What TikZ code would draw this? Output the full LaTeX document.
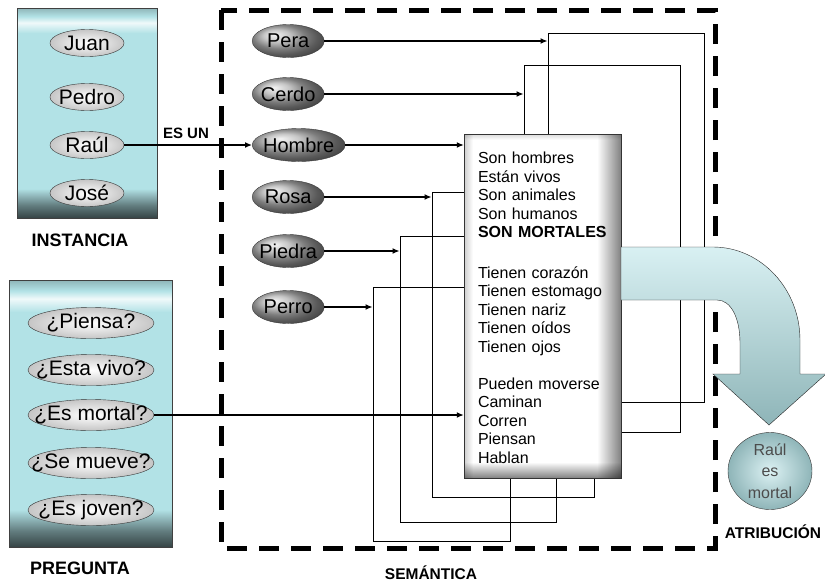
\documentclass[tikz,border=0pt]{standalone}
\usepackage{fontspec}
\setmainfont{Liberation Sans}
\usetikzlibrary{shapes.geometric,arrows.meta,fadings}

\definecolor{panelblue}{RGB}{178,226,230}
\pgfdeclareverticalshading{panelglow}{100bp}{color(0bp)=(panelblue!30!black); color(25bp)=(panelblue!30!black); color(28bp)=(panelblue!55!black); color(32bp)=(panelblue); color(69bp)=(panelblue); color(71.5bp)=(panelblue!20!white); color(73bp)=(panelblue); color(75bp)=(panelblue!80!black); color(100bp)=(panelblue!80!black)}

\tikzset{
  panel/.style={draw=gray!50!black, shade, shading=panelglow},
  instoval/.style={ellipse, draw=gray!40!black, inner color=white, outer color=gray!45,
    inner xsep=-40pt, inner ysep=-12pt, minimum width=74pt, minimum height=27pt,
    font=\fontsize{21}{24}\selectfont},
  pregoval/.style={instoval, minimum width=126pt, minimum height=31pt,
    font=\fontsize{21}{24}\selectfont},
  semoval/.style={ellipse, draw=gray!45!black, ball color=gray!60, anchor=west,
    inner xsep=-40pt, inner ysep=-12pt, minimum width=72pt, minimum height=33pt,
    font=\fontsize{20}{24}\selectfont},
  stackbox/.style={draw, line width=0.9pt},
  link/.style={line width=1.3pt, -{Latex[length=7pt,width=6pt]}},
  lbl/.style={font=\bfseries\fontsize{18}{20}\selectfont},
  edgeshadow/.style={fill=black, opacity=#1},
}

\begin{document}
\begin{tikzpicture}[x=1pt, y=-1pt]
  \useasboundingbox (0,0) rectangle (825,582);

  % Instancia
  \node[panel, minimum width=140pt, minimum height=210pt] (instpanel) at (87,113) {};
  \node[instoval] (juan)  at (87,43)  {Juan};
  \node[instoval] (pedro) at (87,97)  {Pedro};
  \node[instoval] (raul)  at (87,145) {Raúl};
  \node[instoval] (jose)  at (87,193) {José};
  \node[lbl] (instlabel) at (80,240) {INSTANCIA};

  % Pregunta
  \node[panel, minimum width=163pt, minimum height=267pt] (pregpanel) at (90.5,413.5) {};
  \node[pregoval] (piensa)   at (91,323) {¿Piensa?};
  \node[pregoval] (estavivo) at (91,370) {¿Esta vivo?};
  \node[pregoval] (esmortal) at (91,415) {¿Es mortal?};
  \node[pregoval] (semueve)  at (91,463) {¿Se mueve?};
  \node[pregoval] (esjoven)  at (91,510) {¿Es joven?};
  \node[lbl] (preglabel) at (80,568) {PREGUNTA};

  % Semantica
  \draw[line width=5pt, dash pattern=on 20pt off 12pt] (221,10) rectangle (715,548);
  \node[lbl, font=\bfseries\fontsize{15.5}{18}\selectfont] (semlabel) at (431,573) {SEMÁNTICA};

  \node[stackbox, minimum width=156pt, minimum height=369pt] (perabox)   at (626,217.5) {};
  \node[stackbox, minimum width=156pt, minimum height=367pt] (cerdobox)  at (602,248.5) {};
  \node[stackbox, minimum width=162pt, minimum height=305pt] (rosabox)   at (513,344.5) {};
  \node[stackbox, minimum width=156pt, minimum height=286pt] (piedrabox) at (478,379) {};
  \node[stackbox, minimum width=137pt, minimum height=254pt] (perrobox)  at (441.5,414) {};

  \node[semoval] (pera)   at (252,41)  {Pera};
  \node[semoval] (cerdo)  at (252,94)  {Cerdo};
  \node[semoval, minimum width=93pt] (hombre) at (252,145) {Hombre};
  \node[semoval] (rosa)   at (252,197) {Rosa};
  \node[semoval] (piedra) at (252,251) {Piedra};
  \node[semoval] (perro)  at (252,307) {Perro};

  \draw[link] (pera.east) -- (pera.east -| perabox.west);
  \draw[link] (cerdo.east) -- (cerdo.east -| cerdobox.west);
  \draw[link] (rosa.east) -- (rosa.east -| rosabox.west);
  \draw[link] (piedra.east) -- (piedra.east -| piedrabox.west);
  \draw[link] (perro.east) -- (perro.east -| perrobox.west);

  % attribute card with soft inner shadow
  \node[fill=white, minimum width=157pt, minimum height=344pt] (hombrebox) at (542.5,306) {};
  \fill[edgeshadow=0.5, path fading=west] ([xshift=-24pt]hombrebox.north east) rectangle (hombrebox.south east);
  \fill[edgeshadow=0.5, path fading=north] ([yshift=16pt]hombrebox.south west) rectangle (hombrebox.south east);
  \fill[edgeshadow=0.2, path fading=east] (hombrebox.north west) rectangle ([xshift=9pt]hombrebox.south west);
  \fill[edgeshadow=0.15, path fading=south] (hombrebox.north west) rectangle ([yshift=-6pt]hombrebox.north east);
  \draw[gray!40!black] (hombrebox.north west) rectangle (hombrebox.south east);
  \node[inner sep=0pt, text width=129pt, align=left, font=\fontsize{16}{18.5}\selectfont]
    (cardtext) at ([yshift=-2pt]hombrebox.center) {Son hombres\\ Están vivos\\ Son animales\\ Son humanos\\
    \textbf{SON MORTALES}\\[22pt]
    Tienen corazón\\ Tienen estomago\\ Tienen nariz\\ Tienen oídos\\ Tienen ojos\\[18.5pt]
    Pueden moverse\\ Caminan\\ Corren\\ Piensan\\ Hablan};

  \draw[link] (hombre.east) -- (hombrebox.west |- hombre.east);
  \draw[link] (raul.east) -- (hombre.west);
  \node[lbl, font=\bfseries\fontsize{15}{18}\selectfont] (esun) at (186,133) {ES UN};
  \draw[link, line width=2pt] (esmortal.east) -- (esmortal.east -| hombrebox.west);

  % Atribucion
  \shade[draw=gray!30!black, top color=panelblue!50!white, middle color=panelblue,
    bottom color=panelblue!80!black]
    (621,247) -- (713,247) .. controls (761,247) and (800,289) .. (800,340)
    -- (800,374) -- (826,374) -- (769,425) -- (713,374) -- (740,374) -- (740,343)
    .. controls (740,318) and (731,300) .. (717,300) -- (621,300) -- cycle;
  \node[ellipse, draw=gray!40!black, inner color=panelblue!45!white, outer color=panelblue!80!black,
    minimum width=84pt, minimum height=77pt,
    inner sep=0pt, inner ysep=-3pt, align=center, text=black!70,
    font=\fontsize{16}{21.5}\selectfont] (conclusion) at (770,471) {Raúl\\es\\mortal};
  \node[lbl, font=\bfseries\fontsize{15.5}{18}\selectfont] (atriblabel) at (773,532) {ATRIBUCIÓN};
\end{tikzpicture}
\end{document}
